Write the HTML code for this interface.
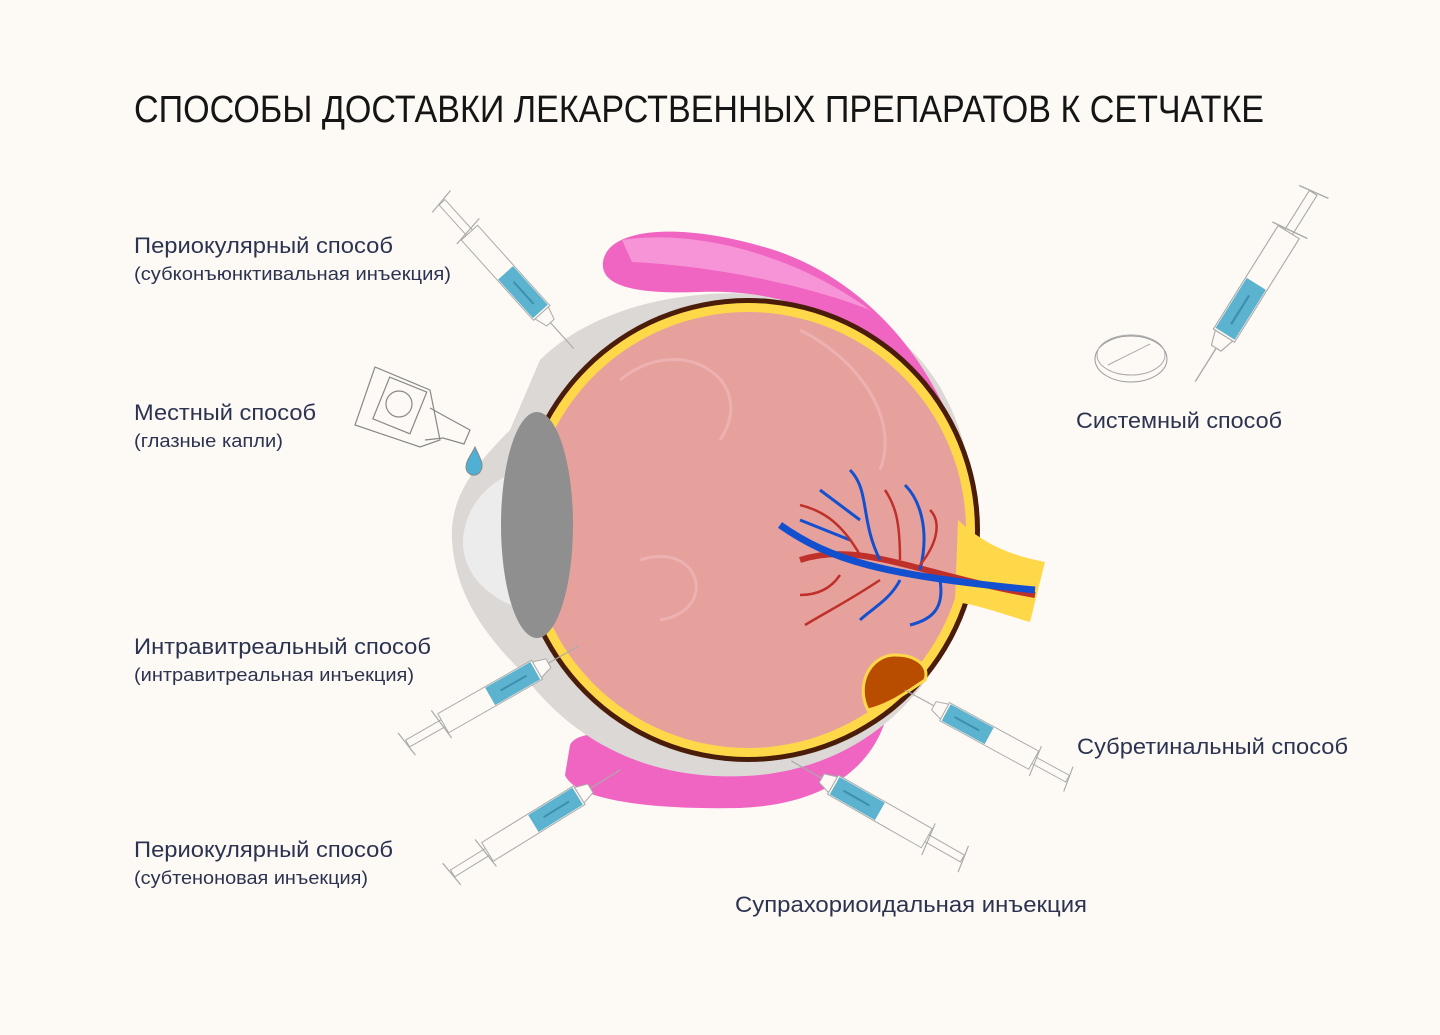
<!DOCTYPE html>
<html><head><meta charset="utf-8"><style>
html,body{margin:0;padding:0;background:#fdfaf5;}
svg{display:block;}
text{font-family:"Liberation Sans",sans-serif;}
.l{font-size:22px;fill:#2b3350;}
.s{font-size:18px;fill:#2b3350;}
</style></head><body>
<svg width="1440" height="1035" viewBox="0 0 1440 1035" xmlns="http://www.w3.org/2000/svg">
<defs>
<g id="syr">
  <line x1="0" y1="-14" x2="4" y2="14" stroke="#aaa" stroke-width="1.2"/>
  <rect x="3" y="-4" width="45" height="8" fill="#fdfaf5" stroke="#aaa" stroke-width="1"/>
  <line x1="40" y1="-17" x2="44" y2="17" stroke="#aaa" stroke-width="1.2"/>
  <rect x="44" y="-11" width="108" height="22" fill="#fdfaf5" stroke="#aaa" stroke-width="1"/>
  <rect x="98" y="-10" width="52" height="20" fill="#5bb3cf"/>
  <line x1="110" y1="0" x2="140" y2="0" stroke="#3d8fad" stroke-width="2"/>
  <path d="M152 -9 L165 -5 L165 5 L152 9 Z" fill="#fdfaf5" stroke="#aaa"/>
  <line x1="165" y1="0" x2="200" y2="0" stroke="#aaa" stroke-width="1.2"/>
</g>
</defs>

<text x="134" y="122" font-size="38" fill="#151515" textLength="1130" lengthAdjust="spacingAndGlyphs">СПОСОБЫ ДОСТАВКИ ЛЕКАРСТВЕННЫХ ПРЕПАРАТОВ К СЕТЧАТКЕ</text>

<!-- bottom muscle -->
<path d="M570 745 C580 725 640 735 700 750 C790 770 860 740 890 700 C880 770 820 805 740 808 C650 810 575 800 565 775 Z" fill="#f065c2"/>

<!-- outer sclera gray -->
<path d="M540 360 C620 280 800 270 900 340 C960 390 975 470 975 530 C975 640 900 760 760 775 C650 785 570 740 520 670 C480 630 455 590 452 540 C450 500 470 470 510 430 Z" fill="#dcd8d6"/>
<!-- cornea -->
<path d="M520 470 C490 480 465 505 463 540 C462 575 490 600 525 610 Z" fill="#ececec"/>

<!-- top muscle -->
<path d="M603 262 C608 225 690 222 780 252 C880 288 945 380 966 470 L974 522 C958 470 930 405 890 362 C830 302 760 290 700 292 C640 294 600 288 603 262 Z" fill="#f065c2"/>
<path d="M622 240 C700 228 800 258 870 310 C800 282 700 265 632 262 Z" fill="#f9a0dc" opacity="0.8"/>

<!-- brown / yellow layers -->
<circle cx="748" cy="530" r="232" fill="#4a1d0a"/>
<circle cx="748" cy="530" r="227" fill="#ffd84a"/>
<circle cx="748" cy="530" r="218" fill="#e7a19d"/>
<path d="M620 380 C680 330 760 380 720 440 M640 560 C700 540 720 610 660 620 M800 330 C860 360 900 420 880 470" stroke="#f0bcbc" stroke-width="3" fill="none" opacity="0.6"/>

<!-- lens -->
<ellipse cx="537" cy="525" rx="36" ry="113" fill="#8f8f8f"/>

<!-- optic nerve -->
<path d="M958 520 C985 545 1010 555 1045 562 L1030 622 C1005 615 980 605 955 602 Z" fill="#ffd84a"/>
<path d="M800 560 C860 540 920 575 1035 595" stroke="#c0302a" stroke-width="6" fill="none"/>
<path d="M780 525 C830 560 880 575 1035 590" stroke="#1350d0" stroke-width="7" fill="none"/>
<g stroke="#1350d0" stroke-width="3" fill="none">
<path d="M880 560 C860 520 870 490 850 470"/><path d="M860 520 L820 490 M850 540 L800 520 M920 570 C930 530 920 500 905 485 M940 580 C945 610 930 620 910 625 M900 580 C890 600 870 610 860 620"/>
</g>
<g stroke="#c0302a" stroke-width="2.5" fill="none">
<path d="M900 560 C900 520 895 505 885 490 M920 565 C940 540 940 520 930 510 M880 580 C850 600 830 610 805 625 M840 575 C830 590 815 595 800 595 M860 555 C840 520 820 510 800 505"/>
</g>
<path d="M868 710 C855 685 870 655 895 655 C915 655 930 665 925 680 C910 690 890 705 868 710 Z" fill="#b84d00" stroke="#ffd84a" stroke-width="3"/>

<!-- eye drops -->
<g fill="none" stroke="#888" stroke-width="1.2">
<path d="M375 367 L430 390 L440 440 L420 447 L355 425 Z"/>
<rect x="380" y="383" width="40" height="45" transform="rotate(22 400 405)"/>
<circle cx="399" cy="404" r="13"/>
<path d="M430 408 L448 418 L470 430 L464 444 L443 438 L425 440"/>
</g>
<path d="M475 447 C480 458 485 465 480 472 C475 478 466 475 466 467 C466 460 472 454 475 447 Z" fill="#4fb0d4" stroke="#888"/>

<!-- pill -->
<ellipse cx="1131" cy="359" rx="36" ry="23" fill="#fdfaf5" stroke="#999"/>
<ellipse cx="1131" cy="355" rx="34" ry="20" fill="none" stroke="#aaa"/>
<line x1="1108" y1="365" x2="1150" y2="344" stroke="#aaa"/>

<!-- syringes -->
<use href="#syr" transform="translate(440,200) rotate(48)"/>
<use href="#syr" transform="translate(1315,190) rotate(122) scale(1.13)"/>
<use href="#syr" transform="translate(405,745) rotate(-29.7)"/>
<use href="#syr" transform="translate(450,875) rotate(-31.7)"/>
<use href="#syr" transform="translate(1070,780) rotate(208.6) scale(0.94)"/>
<use href="#syr" transform="translate(965,860) rotate(209.7)"/>

<!-- labels -->
<text class="l" x="134" y="253" textLength="259" lengthAdjust="spacingAndGlyphs">Периокулярный способ</text>
<text class="s" x="134" y="280" textLength="317" lengthAdjust="spacingAndGlyphs">(субконъюнктивальная инъекция)</text>
<text class="l" x="134" y="420" textLength="182" lengthAdjust="spacingAndGlyphs">Местный способ</text>
<text class="s" x="134" y="447" textLength="149" lengthAdjust="spacingAndGlyphs">(глазные капли)</text>
<text class="l" x="134" y="654" textLength="297" lengthAdjust="spacingAndGlyphs">Интравитреальный способ</text>
<text class="s" x="134" y="681" textLength="280" lengthAdjust="spacingAndGlyphs">(интравитреальная инъекция)</text>
<text class="l" x="134" y="857" textLength="259" lengthAdjust="spacingAndGlyphs">Периокулярный способ</text>
<text class="s" x="134" y="884" textLength="234" lengthAdjust="spacingAndGlyphs">(субтеноновая инъекция)</text>
<text class="l" x="1076" y="428" textLength="206" lengthAdjust="spacingAndGlyphs">Системный способ</text>
<text class="l" x="1077" y="754" textLength="271" lengthAdjust="spacingAndGlyphs">Субретинальный способ</text>
<text class="l" x="735" y="912" textLength="352" lengthAdjust="spacingAndGlyphs">Супрахориоидальная инъекция</text>
</svg>
</body></html>
